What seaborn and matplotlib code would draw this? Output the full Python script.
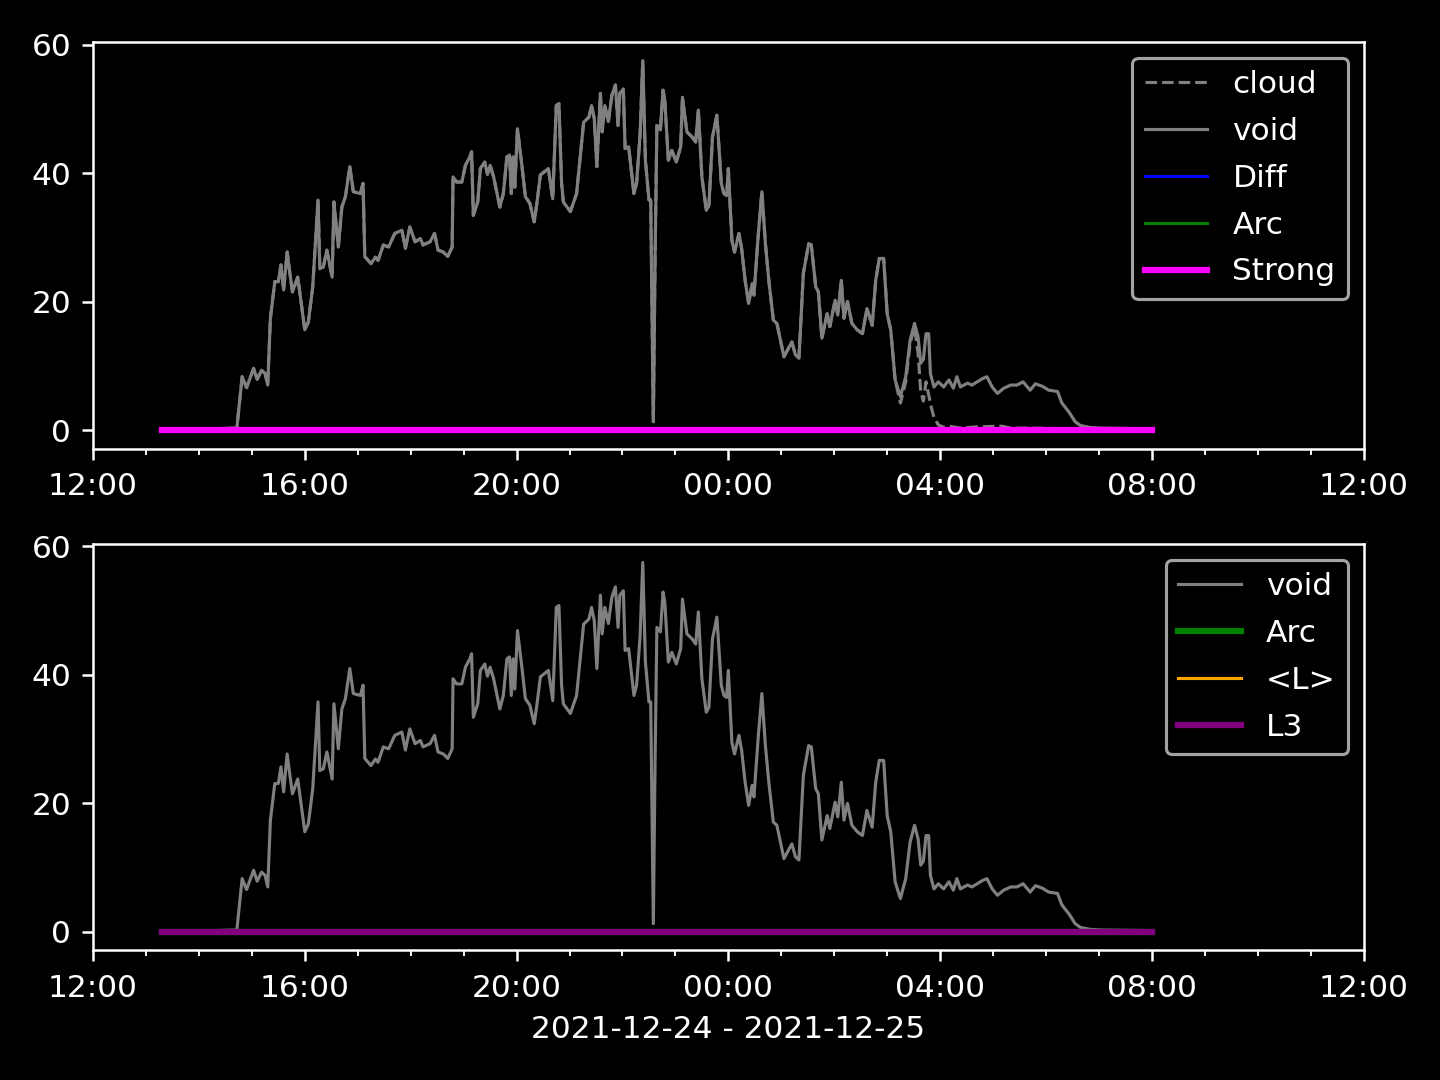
import pandas as pd
import matplotlib
matplotlib.use("Agg")
import matplotlib.pyplot as plt
import matplotlib.dates as mdates
import seaborn as sns

# ── data ──────────────────────────────────────────────────────────────────────
void_times = [
    "13:18", "14:43", "14:49", "14:54", "15:02", "15:06", "15:11", "15:15", "15:18", "15:21",
    "15:26", "15:30", "15:33", "15:36", "15:40", "15:43", "15:46", "15:52", "15:56", "16:00",
    "16:04", "16:09", "16:15", "16:17", "16:21", "16:25", "16:31", "16:33", "16:38", "16:42",
    "16:46", "16:51", "16:55", "17:03", "17:06", "17:08", "17:15", "17:20", "17:23", "17:29",
    "17:35", "17:42", "17:50", "17:54", "17:59", "18:05", "18:11", "18:14", "18:22", "18:27",
    "18:31", "18:37", "18:42", "18:47", "18:48", "18:52", "18:58", "19:02", "19:07", "19:09",
    "19:11", "19:16", "19:19", "19:24", "19:27", "19:30", "19:34", "19:41", "19:45", "19:49",
    "19:52", "19:54", "19:56", "19:58", "20:01", "20:06", "20:10", "20:15", "20:20", "20:23",
    "20:27", "20:36", "20:41", "20:45", "20:48", "20:51", "20:53", "21:01", "21:08", "21:16",
    "21:22", "21:25", "21:28", "21:31", "21:35", "21:37", "21:40", "21:44", "21:48", "21:52",
    "21:55", "21:57", "22:01", "22:03", "22:07", "22:13", "22:16", "22:20", "22:23", "22:26",
    "22:30", "22:32", "22:35", "22:37", "22:39", "22:43", "22:46", "22:48", "22:52", "22:56",
    "23:01", "23:06", "23:08", "23:13", "23:19", "23:23", "23:26", "23:30", "23:35", "23:38",
    "23:42", "23:47", "23:52", "23:55", "23:58", "00:00", "00:04", "00:07", "00:12", "00:15",
    "00:19", "00:23", "00:27", "00:29", "00:34", "00:38", "00:42", "00:46", "00:51", "00:55",
    "01:03", "01:08", "01:12", "01:16", "01:20", "01:25", "01:31", "01:34", "01:39", "01:42",
    "01:46", "01:52", "01:55", "02:01", "02:04", "02:08", "02:11", "02:15", "02:20", "02:26",
    "02:32", "02:37", "02:43", "02:47", "02:51", "02:56", "03:00", "03:04", "03:09", "03:15",
    "03:21", "03:26", "03:31", "03:35", "03:38", "03:41", "03:44", "03:47", "03:49", "03:53",
    "03:58", "04:04", "04:10", "04:15", "04:19", "04:23", "04:31", "04:36", "04:42", "04:48",
    "04:53", "04:59", "05:05", "05:12", "05:20", "05:27", "05:34", "05:42", "05:48", "05:56",
    "06:03", "06:13", "06:18", "06:26", "06:33", "06:39", "06:50", "07:02", "08:00",
]
void_vals = [
    0.0, 0.3, 8.3, 6.6, 9.6, 7.9, 9.3, 8.8, 7.0, 17.4,
    23.1, 23.1, 25.7, 21.8, 27.7, 24.5, 21.5, 23.8, 19.7, 15.6,
    16.8, 22.3, 35.8, 25.1, 25.4, 28.0, 23.8, 35.5, 28.5, 34.7,
    36.3, 41.0, 37.1, 36.8, 38.4, 27.0, 25.9, 26.9, 26.4, 28.8,
    28.5, 30.6, 31.1, 28.3, 31.6, 29.3, 29.8, 28.8, 29.3, 30.6,
    28.0, 27.7, 27.0, 28.5, 39.4, 38.6, 38.6, 41.2, 42.5, 43.3,
    33.4, 35.5, 40.7, 41.7, 39.8, 41.2, 39.4, 34.7, 36.8, 42.5,
    42.8, 36.8, 42.5, 37.8, 46.9, 41.2, 36.3, 35.3, 32.4, 35.3,
    39.7, 40.7, 36.0, 50.5, 50.8, 38.4, 35.5, 34.0, 36.8, 47.9,
    48.7, 50.5, 48.5, 41.0, 52.4, 46.4, 50.5, 48.0, 52.1, 53.7,
    47.4, 52.4, 53.1, 43.8, 44.1, 36.8, 38.4, 46.1, 57.5, 42.0,
    35.8, 35.8, 1.3, 27.0, 47.4, 46.7, 52.9, 51.3, 42.0, 43.5,
    41.7, 44.1, 51.8, 46.4, 45.6, 44.8, 49.8, 39.4, 34.2, 35.0,
    45.6, 49.0, 38.4, 36.8, 36.5, 40.7, 29.5, 27.7, 30.6, 28.3,
    23.3, 19.7, 22.8, 21.0, 30.6, 37.1, 29.0, 23.1, 17.1, 16.6,
    11.4, 12.7, 13.7, 11.7, 11.2, 24.4, 29.0, 28.8, 22.3, 21.5,
    14.3, 18.1, 16.1, 20.2, 17.9, 23.3, 17.4, 20.0, 16.6, 15.6,
    15.0, 18.9, 16.3, 23.3, 26.7, 26.7, 18.1, 15.6, 7.8, 5.2,
    8.3, 14.0, 16.6, 14.5, 10.4, 11.0, 15.0, 15.0, 8.8, 6.7,
    7.5, 6.7, 7.8, 6.5, 8.3, 6.7, 7.3, 7.0, 7.5, 8.0,
    8.3, 6.7, 5.7, 6.5, 7.0, 7.0, 7.5, 6.2, 7.2, 6.8,
    6.2, 6.0, 4.2, 2.8, 1.3, 0.7, 0.4, 0.3, 0.2,
]

# cloud follows void until 03:09, then drops away
cloud_split = "03:09"
cloud_tail_times = ["03:15", "03:21", "03:26", "03:31", "03:35", "03:38", "03:41", "03:44",
                    "03:47", "03:50", "03:53", "03:58", "04:04", "04:10", "04:23", "04:42",
                    "05:10", "05:20", "05:40", "06:30", "08:00"]
cloud_tail_vals = [4.2, 7.5, 13.5, 16.0, 12.0, 6.0, 4.5, 7.5,
                   5.5, 3.5, 2.0, 0.8, 0.4, 0.6, 0.3, 0.5,
                   0.6, 0.3, 0.3, 0.2, 0.2]

# flat series (all zero over the whole run)
flat_times = ["13:18", "08:00"]
flat_vals = [0.0, 0.0]

date_label = "2021-12-24 - 2021-12-25"


def to_dt(hhmm):
    h, m = map(int, hhmm.split(":"))
    day = 24 if h >= 12 else 25
    return pd.Timestamp(2021, 12, day, h, m)


void = pd.DataFrame({"t": [to_dt(s) for s in void_times], "v": void_vals})
split = void_times.index(cloud_split) + 1
cloud = pd.DataFrame({
    "t": [to_dt(s) for s in void_times[:split] + cloud_tail_times],
    "v": void_vals[:split] + cloud_tail_vals,
})
flat = pd.DataFrame({"t": [to_dt(s) for s in flat_times], "v": flat_vals})

# ── plot ──────────────────────────────────────────────────────────────────────
plt.style.use("dark_background")
fig, (ax1, ax2) = plt.subplots(2, 1, figsize=(6.4, 4.8), dpi=225)
fig.subplots_adjust(left=0.0646, right=0.947, top=0.961, bottom=0.12, hspace=0.235)

kw = dict(x="t", y="v", sort=False, estimator=None)
sns.lineplot(data=cloud, ax=ax1, color="gray", lw=1, linestyle="--", label="cloud", **kw)
sns.lineplot(data=void, ax=ax1, color="gray", lw=1, label="void", **kw)
sns.lineplot(data=flat, ax=ax1, color="blue", lw=1, label="Diff", **kw)
sns.lineplot(data=flat, ax=ax1, color="green", lw=1, label="Arc", **kw)
sns.lineplot(data=flat, ax=ax1, color="magenta", lw=2, label="Strong", **kw)

sns.lineplot(data=void, ax=ax2, color="gray", lw=1, label="void", **kw)
sns.lineplot(data=flat, ax=ax2, color="green", lw=2, label="Arc", **kw)
sns.lineplot(data=flat, ax=ax2, color="orange", lw=1, label="<L>", **kw)
sns.lineplot(data=flat, ax=ax2, color="purple", lw=2, label="L3", **kw)

for ax in (ax1, ax2):
    ax.set_xlim(pd.Timestamp(2021, 12, 24, 12), pd.Timestamp(2021, 12, 25, 12))
    ax.xaxis.set_major_locator(mdates.HourLocator(byhour=[0, 4, 8, 12, 16, 20]))
    ax.xaxis.set_minor_locator(mdates.HourLocator())
    ax.xaxis.set_major_formatter(mdates.DateFormatter("%H:%M"))
    ax.tick_params(axis="x", which="major", pad=4.0)
    ax.set_yticks([0, 20, 40, 60])
    ax.set_ylabel("")
    ax.set_xlabel("")
    ax.legend(loc="upper right", labelspacing=0.57)

ax2.set_xlabel(date_label)

fig.savefig("out.png", dpi=225)
